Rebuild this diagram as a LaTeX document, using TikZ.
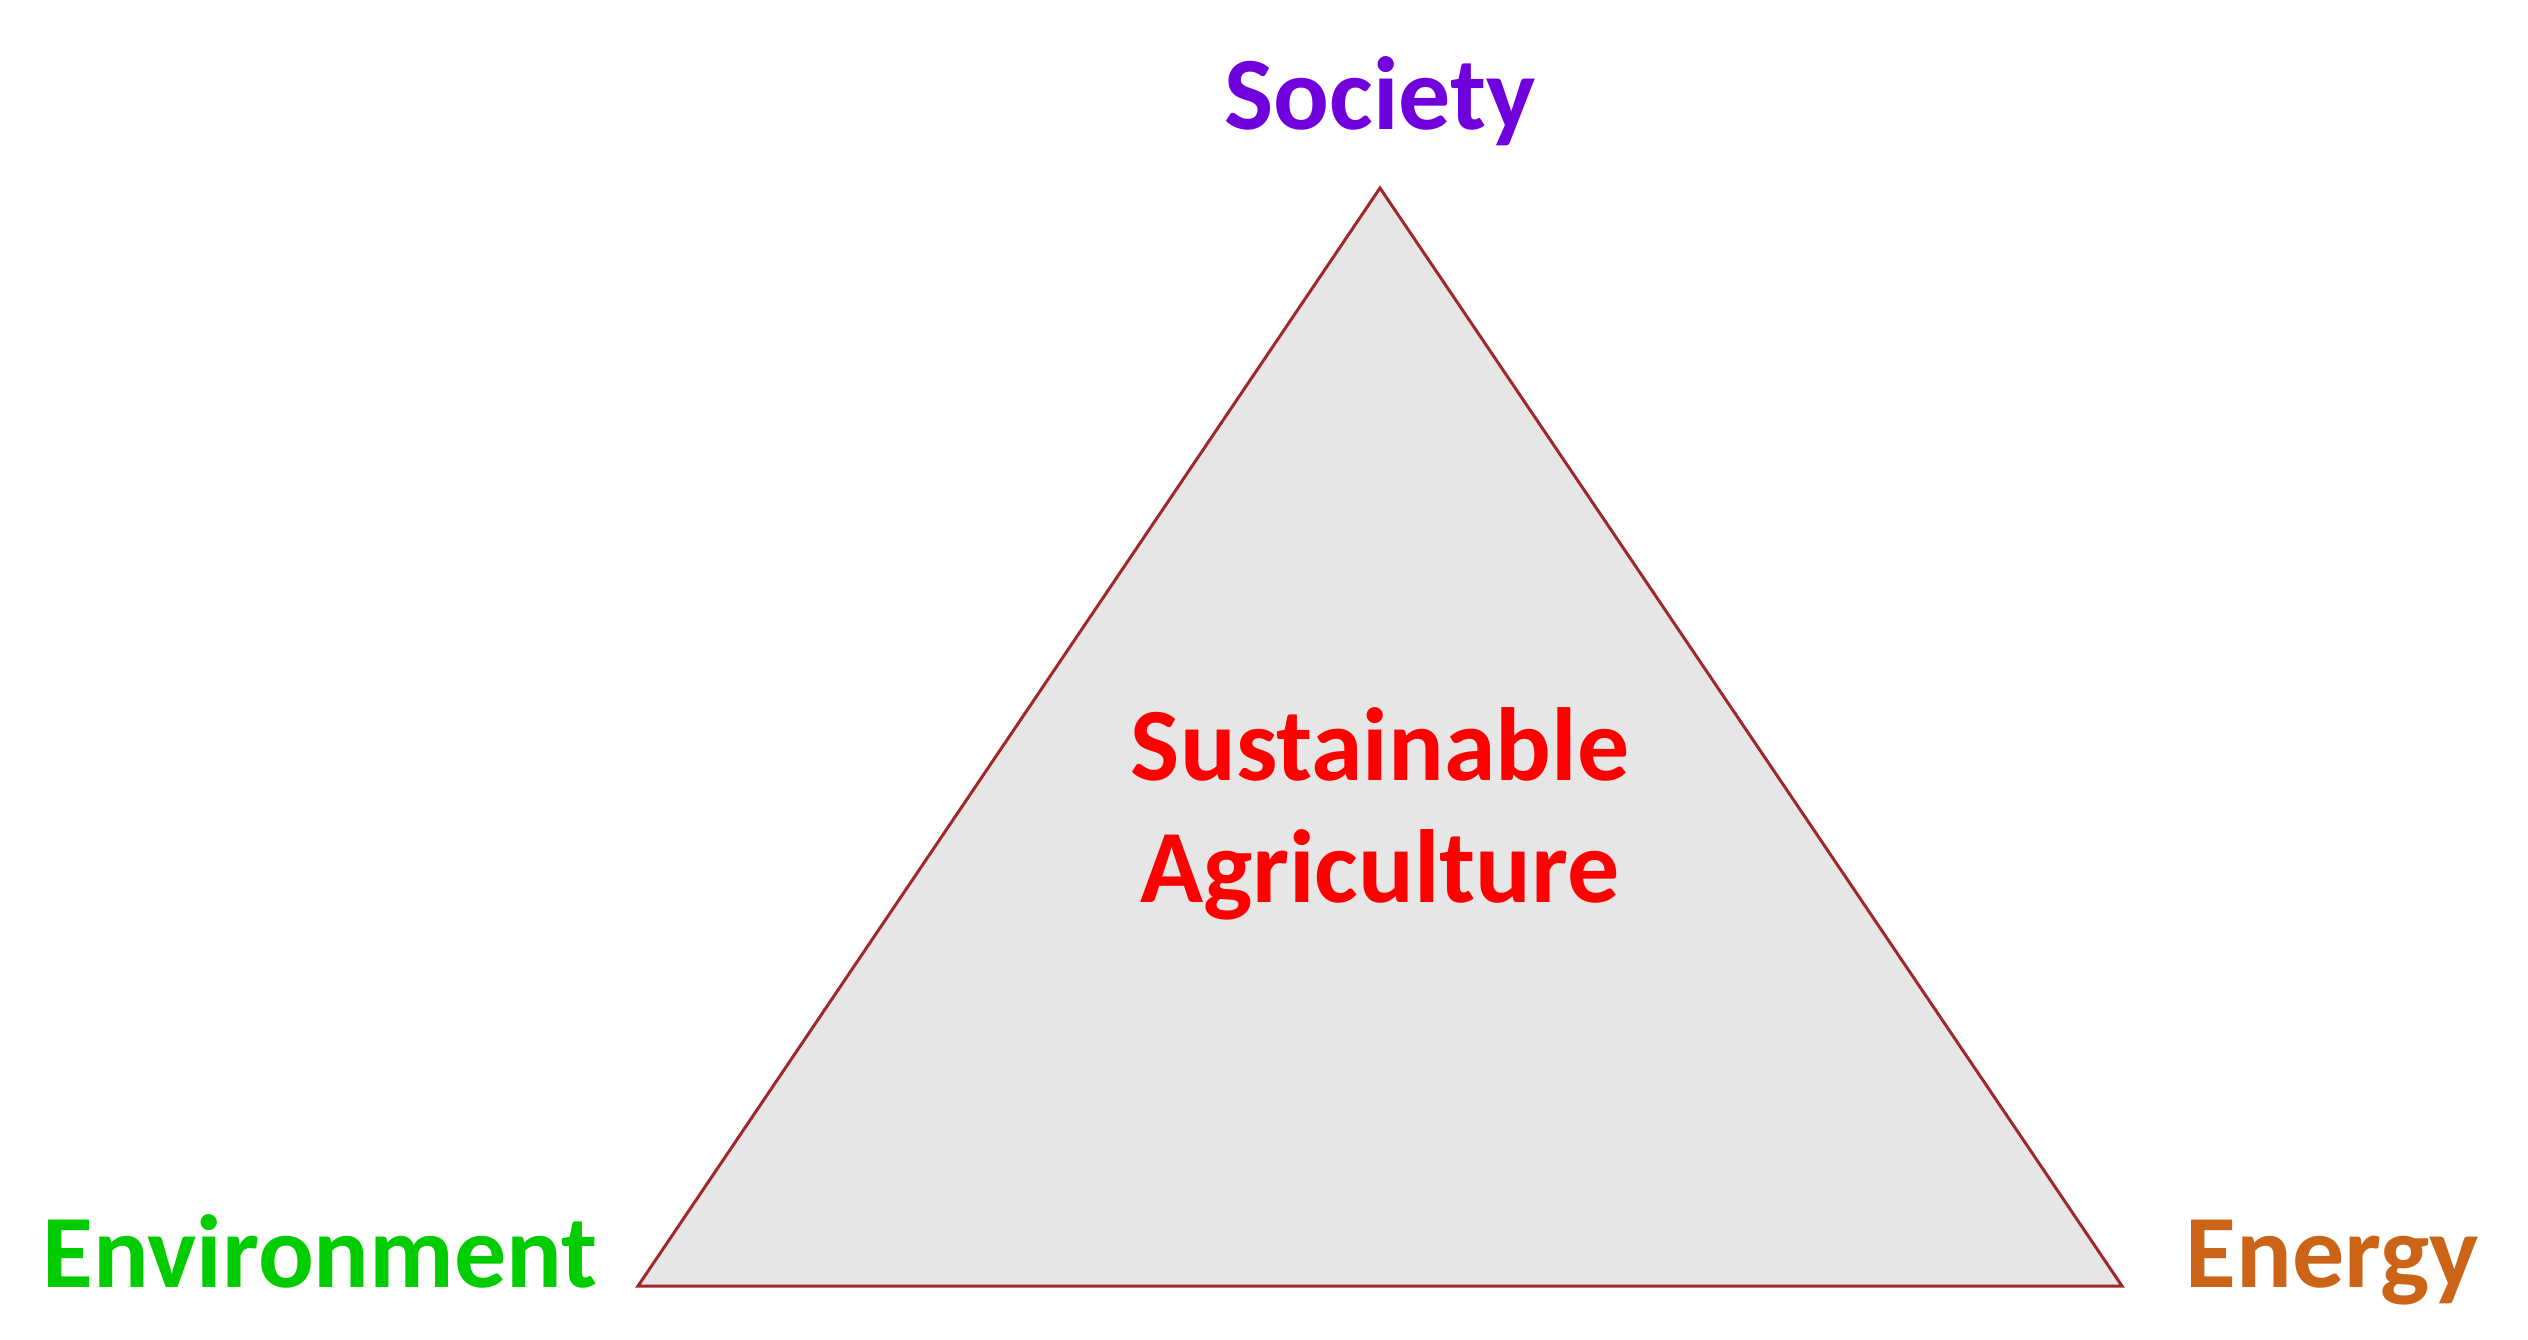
\documentclass[tikz,border=0pt]{standalone}
\usepackage{fontspec}
\setmainfont{Carlito}
\definecolor{socpurple}{HTML}{7000DC}
\definecolor{envgreen}{HTML}{00CC00}
\definecolor{enorange}{HTML}{CC6418}
\definecolor{trifill}{HTML}{E6E6E6}
\definecolor{triedge}{HTML}{A0282C}
\begin{document}
\begin{tikzpicture}[x=1pt,y=-1pt,
  lbl/.style={font=\fontsize{104}{121}\selectfont\bfseries, anchor=base, inner sep=0pt},
  tri/.style={draw=triedge, fill=trifill, line width=3pt, line join=miter}]
\useasboundingbox (0,0) rectangle (2528,1340);
\coordinate (apex) at (1380,188);
\coordinate (bl) at (638,1286);
\coordinate (br) at (2122,1286);
\draw[tri] (apex) -- (br) -- (bl) -- cycle;
\node[lbl, text=socpurple] (soc) at (1380,130) {Society};
\node[lbl, text=envgreen] (env) at (320,1287) {Environment};
\node[lbl, text=enorange] (ene) at (2332,1287) {Energy};
\node[lbl, text=red] (sus) at (1380,780) {Sustainable};
\node[lbl, text=red] (agr) at (1380,902) {Agriculture};
\end{tikzpicture}
\end{document}
